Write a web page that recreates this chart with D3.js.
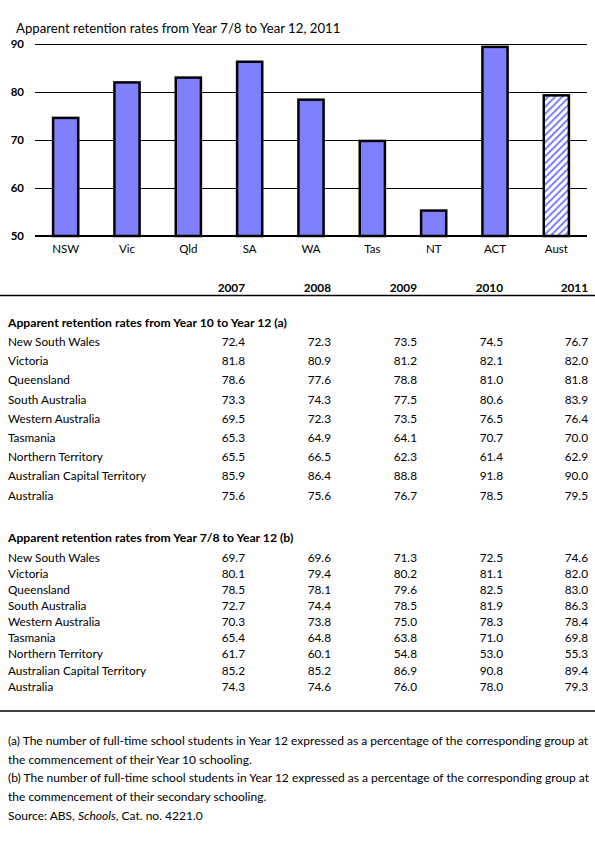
<!DOCTYPE html>
<html>
<head>
<meta charset="utf-8">
<script src="https://cdn.jsdelivr.net/npm/d3@7"></script>
<style>
  body { margin: 0; background: white; }
  svg { display: block; font-family: Lato, "Open Sans", sans-serif; }
</style>
</head>
<body>
<div id="chart"></div>
<script>
const chartTitle = 'Apparent retention rates from Year 7/8 to Year 12, 2011';
const categories = ['NSW', 'Vic', 'Qld', 'SA', 'WA', 'Tas', 'NT', 'ACT', 'Aust'];
const values2011 = [74.6, 82.0, 83.0, 86.3, 78.4, 69.8, 55.3, 89.4, 79.3];
const yTicks = [50, 60, 70, 80, 90];

const years = ['2007', '2008', '2009', '2010', '2011'];
const regions = [
  'New South Wales', 'Victoria', 'Queensland', 'South Australia', 'Western Australia',
  'Tasmania', 'Northern Territory', 'Australian Capital Territory', 'Australia'
];
const year10To12 = [
  [72.4, 72.3, 73.5, 74.5, 76.7],
  [81.8, 80.9, 81.2, 82.1, 82.0],
  [78.6, 77.6, 78.8, 81.0, 81.8],
  [73.3, 74.3, 77.5, 80.6, 83.9],
  [69.5, 72.3, 73.5, 76.5, 76.4],
  [65.3, 64.9, 64.1, 70.7, 70.0],
  [65.5, 66.5, 62.3, 61.4, 62.9],
  [85.9, 86.4, 88.8, 91.8, 90.0],
  [75.6, 75.6, 76.7, 78.5, 79.5]
];
const year7To12 = [
  [69.7, 69.6, 71.3, 72.5, 74.6],
  [80.1, 79.4, 80.2, 81.1, 82.0],
  [78.5, 78.1, 79.6, 82.5, 83.0],
  [72.7, 74.4, 78.5, 81.9, 86.3],
  [70.3, 73.8, 75.0, 78.3, 78.4],
  [65.4, 64.8, 63.8, 71.0, 69.8],
  [61.7, 60.1, 54.8, 53.0, 55.3],
  [85.2, 85.2, 86.9, 90.8, 89.4],
  [74.3, 74.6, 76.0, 78.0, 79.3]
];
const sectionTitles = [
  'Apparent retention rates from Year 10 to Year 12 (a)',
  'Apparent retention rates from Year 7/8 to Year 12 (b)'
];
const footnotes = [
  '(a) The number of full-time school students in Year 12 expressed as a percentage of the corresponding group at',
  'the commencement of their Year 10 schooling.',
  '(b) The number of full-time school students in Year 12 expressed as a percentage of the corresponding group at',
  'the commencement of their secondary schooling.'
];

const W = 595, H = 843;
const svg = d3.select('#chart').append('svg')
  .attr('width', W)
  .attr('height', H);

// hatch for the Australia bar (white ground so gridlines stay hidden)
const hatch = svg.append('defs').append('pattern')
  .attr('id', 'hatch')
  .attr('patternUnits', 'userSpaceOnUse')
  .attr('width', 5)
  .attr('height', 5)
  .attr('patternTransform', 'rotate(45)');
hatch.append('rect')
  .attr('width', 5).attr('height', 5)
  .attr('fill', '#fff');
hatch.append('rect')
  .attr('x', 0).attr('y', 0)
  .attr('width', 2).attr('height', 5)
  .attr('fill', '#8080ff');

// ---- bar chart ----
svg.append('text')
  .attr('x', 16)
  .attr('y', 33)
  .attr('font-size', 13.2)
  .text(chartTitle);

const x = d3.scaleBand()
  .domain(categories)
  .range([35, 587])
  .paddingInner(0.59)
  .paddingOuter(0.295);

const y = d3.scaleLinear()
  .domain([50, 90])
  .range([236, 44]);

const grid = svg.append('g').attr('shape-rendering', 'crispEdges');
grid.selectAll('line')
  .data(yTicks.filter(t => t > 50))
  .enter()
  .append('line')
  .attr('x1', 35)
  .attr('x2', 587)
  .attr('y1', d => y(d) + 0.5)
  .attr('y2', d => y(d) + 0.5)
  .attr('stroke', '#000')
  .attr('stroke-width', 1);

const yAxis = svg.append('g')
  .attr('transform', 'translate(35,0)')
  .call(d3.axisLeft(y).tickValues(yTicks).tickSize(0).tickPadding(11));
yAxis.select('.domain').remove();
yAxis.selectAll('text')
  .attr('font-family', 'Lato, sans-serif')
  .attr('font-size', 11.5)
  .attr('font-weight', 'bold')
  .attr('fill', '#000');

svg.append('g').selectAll('rect')
  .data(categories)
  .enter()
  .append('rect')
  .attr('x', d => x(d))
  .attr('y', (d, i) => y(values2011[i]))
  .attr('width', x.bandwidth())
  .attr('height', (d, i) => y(50) - y(values2011[i]))
  .attr('fill', d => d === 'Aust' ? 'url(#hatch)' : '#8080ff')
  .attr('stroke', '#000')
  .attr('stroke-width', 2.5);

// baseline at 50
svg.append('line')
  .attr('x1', 35)
  .attr('x2', 587)
  .attr('y1', y(50))
  .attr('y2', y(50))
  .attr('stroke', '#000')
  .attr('stroke-width', 2);

const xAxis = svg.append('g')
  .attr('transform', `translate(0,${y(50)})`)
  .call(d3.axisBottom(x).tickSize(0).tickPadding(9));
xAxis.select('.domain').remove();
xAxis.selectAll('text')
  .attr('font-family', 'Lato, sans-serif')
  .attr('font-size', 11.5)
  .attr('fill', '#000');

// ---- table ----
const col = d3.scaleOrdinal()
  .domain(years)
  .range([245, 331, 417, 503, 588]);

svg.append('g').selectAll('text')
  .data(years)
  .enter()
  .append('text')
  .attr('x', d => col(d))
  .attr('y', 292)
  .attr('text-anchor', 'end')
  .attr('font-size', 11.8)
  .attr('font-weight', 'bold')
  .text(d => d);

svg.append('line')
  .attr('x1', 0).attr('x2', W)
  .attr('y1', 295.5).attr('y2', 295.5)
  .attr('stroke', '#000')
  .attr('stroke-width', 1.5);

const sections = [
  { title: sectionTitles[0], rows: year10To12, top: 323, step: 19.2 },
  { title: sectionTitles[1], rows: year7To12, top: 538, step: 16.15 }
];

sections.forEach(s => {
  const g = svg.append('g').attr('font-size', 11.8);
  g.append('text')
    .attr('x', 8)
    .attr('y', s.top + 4)
    .attr('font-weight', 'bold')
    .attr('font-size', 12.2)
    .text(s.title);

  const firstRow = s.top + (s.step > 18 ? 19 : 19.5);
  const rowY = i => firstRow + i * s.step + 4;

  g.selectAll('.label')
    .data(regions)
    .enter()
    .append('text')
    .attr('x', 8)
    .attr('y', (d, i) => rowY(i))
    .text(d => d);

  s.rows.forEach((row, i) => {
    g.selectAll(null)
      .data(row)
      .enter()
      .append('text')
      .attr('x', (d, j) => col(years[j]))
      .attr('y', rowY(i))
      .attr('text-anchor', 'end')
      .text(d => d.toFixed(1));
  });
});

svg.append('line')
  .attr('x1', 0).attr('x2', W)
  .attr('y1', 711).attr('y2', 711)
  .attr('stroke', '#000')
  .attr('stroke-width', 1.5);

// ---- footnotes ----
const notes = svg.append('g').attr('font-size', 12);
notes.selectAll('text')
  .data(footnotes)
  .enter()
  .append('text')
  .attr('x', 8)
  .attr('y', (d, i) => 745 + i * 18.7)
  .text(d => d);

const source = notes.append('text')
  .attr('x', 8)
  .attr('y', 819.5);
source.append('tspan').text('Source: ABS, ');
source.append('tspan').attr('font-style', 'italic').text('Schools');
source.append('tspan').text(', Cat. no. 4221.0');
</script>
</body>
</html>
